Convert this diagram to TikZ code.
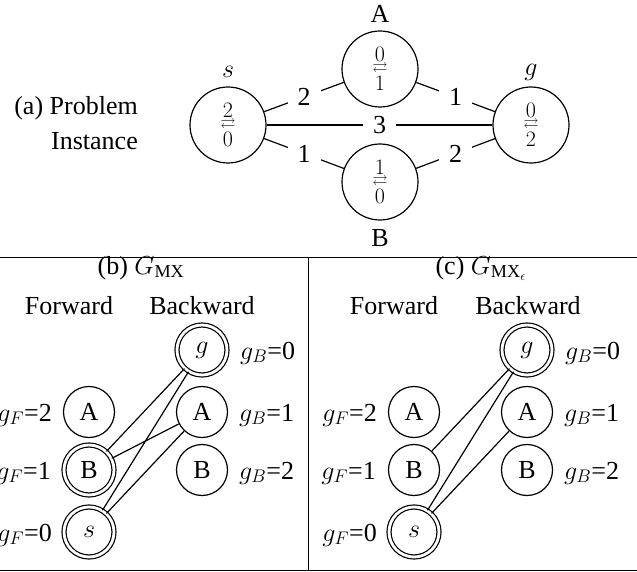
\documentclass[tikz,border=0pt]{standalone}
\usepackage{fix-cm}
\usepackage{amssymb}
\usepackage{amsmath}
\usepackage{fontspec}
\setmainfont{Liberation Serif}
\newcommand\stk[2]{\vbox{\fontsize{22}{14.85}\selectfont\halign{\hfil##\hfil\cr$#1$\cr\raisebox{4pt}{\fontsize{15}{15}\selectfont$\rightleftarrows$}\cr$#2$\cr}}}
\tikzset{
  bigc/.style={circle, draw, line width=1.2pt, minimum size=76pt, inner sep=0pt},
  smc/.style={circle, draw, line width=1.2pt, minimum size=51pt, inner sep=0pt},
  dblc/.style={circle, draw, line width=1.2pt, double, double distance=2.8pt, minimum size=50pt, inner sep=0pt},
  elab/.style={fill=white, inner xsep=10pt, inner ysep=2pt},
  txt/.style={inner sep=0pt},
  edge/.style={line width=1.2pt},
  rule/.style={line width=1pt}
}
\begin{document}
\begin{tikzpicture}[x=1pt, y=-1pt, font=\fontsize{26}{30}\selectfont]
\useasboundingbox (0,0) rectangle (637,572);
% (a) problem instance
\node[txt, align=right, anchor=east, font=\fontsize{26}{35}\selectfont] (cap) at (138,123) {(a) Problem\\Instance};
\node[bigc] (s) at (228,125) {\stk{2}{0}};
\node[bigc] (A) at (380,69) {\stk{0}{1}};
\node[bigc] (B) at (380,182) {\stk{1}{0}};
\node[bigc] (g) at (531,125) {\stk{0}{2}};
\node[txt] (sl) at (228,72) {$s$};
\node[txt] (gl) at (531,72) {$g$};
\node[txt] (Al) at (380,14) {A};
\node[txt] (Bl) at (380,238) {B};
\draw[edge] (s) -- node[elab] {2} (A);
\draw[edge] (A) -- node[elab] {1} (g);
\draw[edge] (s) -- node[elab] {3} (g);
\draw[edge] (s) -- node[elab] {1} (B);
\draw[edge] (B) -- node[elab] {2} (g);
% rules
\coordinate (r1) at (0,257);
\coordinate (r2) at (637,257);
\coordinate (r3) at (0,570);
\coordinate (r4) at (637,570);
\coordinate (v1) at (308,257);
\coordinate (v2) at (308,570);
\draw[rule] (r1) -- (r2);
\draw[rule] (r3) -- (r4);
\draw[rule] (v1) -- (v2);
% (b)
\node[txt, anchor=base] (bt) at (141,274) {(b) $G_{\textnormal{MX}}$};
\node[txt, anchor=base] (bf) at (69,314) {Forward};
\node[txt, anchor=base] (bb) at (202,314) {Backward};
\node[smc] (bfA) at (89,412) {A};
\node[dblc] (bfB) at (89,470) {B};
\node[dblc] (bfs) at (89,532) {$s$};
\node[dblc] (bbg) at (202,350) {$g$};
\node[smc] (bbA) at (202,412) {A};
\node[smc] (bbB) at (202,470) {B};
\node[txt, anchor=base east] (bl1) at (52,421) {$g_F$=2};
\node[txt, anchor=base east] (bl2) at (51,479) {$g_F$=1};
\node[txt, anchor=base east] (bl3) at (52,541) {$g_F$=0};
\node[txt, anchor=base west] (br1) at (240,359) {$g_B$=0};
\node[txt, anchor=base west] (br2) at (239,421) {$g_B$=1};
\node[txt, anchor=base west] (br3) at (239,479) {$g_B$=2};
\draw[edge] (bbg) -- (bfB);
\draw[edge] (bbg) -- (bfs);
\draw[edge] (bbA) -- (bfB);
\draw[edge] (bbA) -- (bfs);
% (c)
\node[txt, anchor=base] (ct) at (481,274) {(c) $G_{\textnormal{MX}_\epsilon}$};
\node[txt, anchor=base] (cf) at (394,314) {Forward};
\node[txt, anchor=base] (cb) at (528,314) {Backward};
\node[smc] (cfA) at (414,412) {A};
\node[smc] (cfB) at (414,470) {B};
\node[dblc] (cfs) at (414,532) {$s$};
\node[dblc] (cbg) at (527,350) {$g$};
\node[smc] (cbA) at (527,412) {A};
\node[smc] (cbB) at (527,470) {B};
\node[txt, anchor=base east] (cl1) at (377,421) {$g_F$=2};
\node[txt, anchor=base east] (cl2) at (376,479) {$g_F$=1};
\node[txt, anchor=base east] (cl3) at (377,541) {$g_F$=0};
\node[txt, anchor=base west] (cr1) at (565,359) {$g_B$=0};
\node[txt, anchor=base west] (cr2) at (564,421) {$g_B$=1};
\node[txt, anchor=base west] (cr3) at (564,479) {$g_B$=2};
\draw[edge] (cbg) -- (cfB);
\draw[edge] (cbg) -- (cfs);
\draw[edge] (cbA) -- (cfs);
\end{tikzpicture}
\end{document}
